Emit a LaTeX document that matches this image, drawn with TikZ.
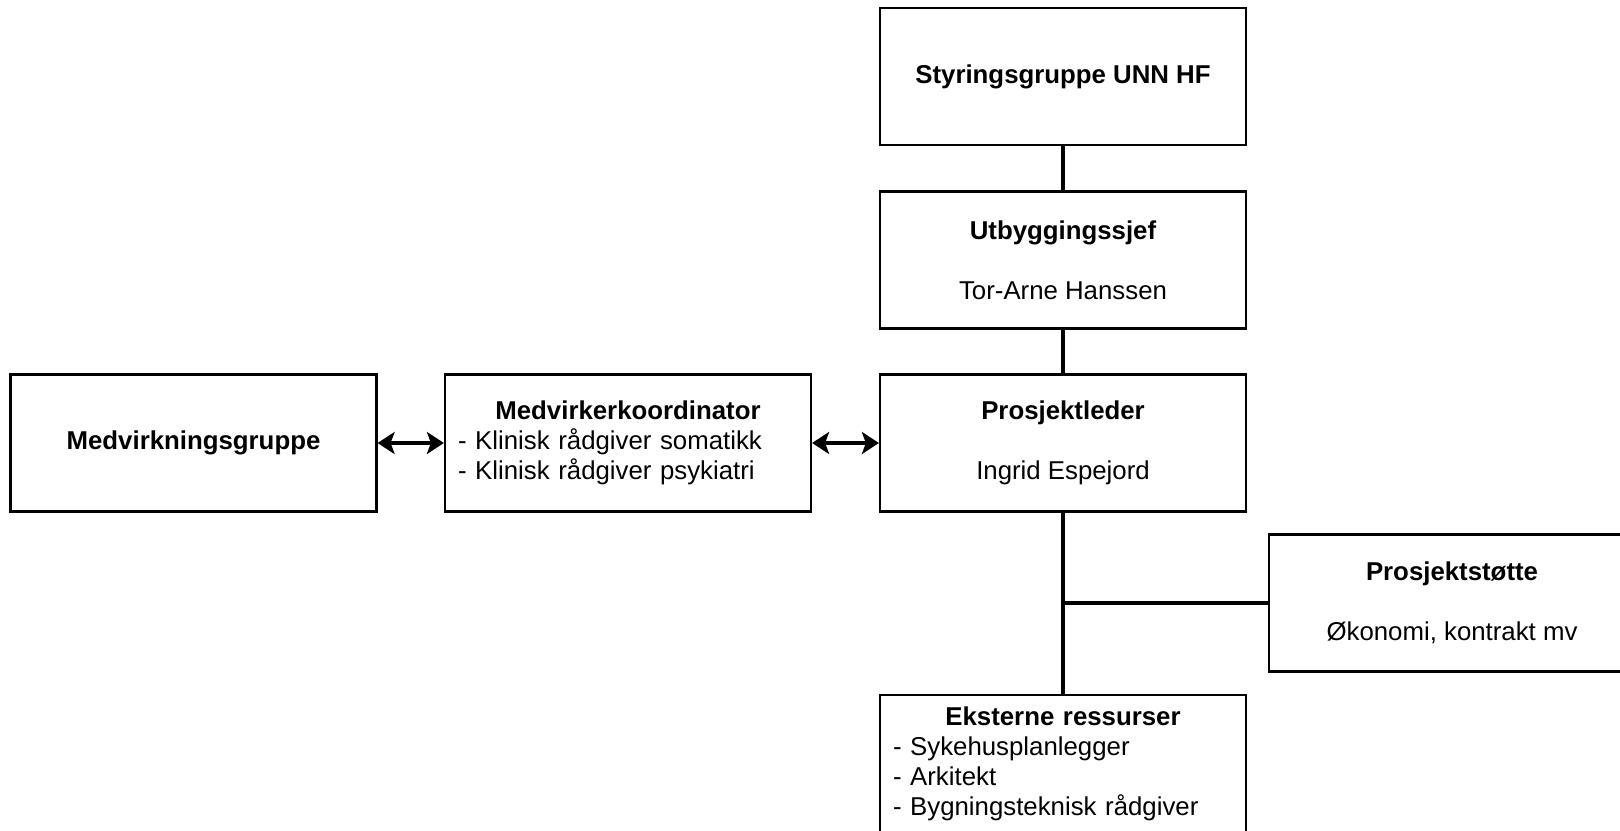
\documentclass[tikz,border=0pt]{standalone}
\usepackage{fontspec}
\setmainfont{Liberation Sans}
\usetikzlibrary{arrows.meta}
\begin{document}
\begin{tikzpicture}[x=0.5pt, y=-0.5pt,
    box/.style={draw, line width=1.1pt, minimum width=183pt, minimum height=68.5pt,
      inner sep=0pt, align=center, font=\fontsize{12.9}{15}\selectfont},
    liste/.style={box, text width=170pt, align=left},
    link/.style={line width=1.75pt},
    begge/.style={line width=1.75pt, {Stealth[length=8.5pt, width=11pt, inset=2pt]}-{Stealth[length=8.5pt, width=11pt, inset=2pt]}}]
    \useasboundingbox (0,0) rectangle (1620,830);
    \node[box] (styr) at (1063,76.5) {\textbf{Styringsgruppe UNN HF}};
    \node[box] (utb) at (1063,260) {\textbf{Utbyggingssjef}\\[15pt]Tor-Arne Hanssen};
    \node[box] (leder) at (1063,443) {\textbf{Prosjektleder}\\[15pt]Ingrid Espejord};
    \node[liste] (koord) at (628,443) {\makebox[170pt]{\textbf{Medvirkerkoordinator}}\\
      - Klinisk rådgiver somatikk\\
      - Klinisk rådgiver psykiatri};
    \node[box] (medv) at (193.5,443) {\textbf{Medvirkningsgruppe}};
    \node[box] (stotte) at (1452,603) {\textbf{Prosjektstøtte}\\[15pt]Økonomi, kontrakt mv};
    \node[liste] (ekst) at (1063,763.5) {\makebox[170pt]{\textbf{Eksterne ressurser}}\\
      - Sykehusplanlegger\\
      - Arkitekt\\
      - Bygningsteknisk rådgiver};
    \coordinate (grein) at (leder.south |- stotte.west);
    \draw[link] (styr) -- (utb);
    \draw[link] (utb) -- (leder);
    \draw[link] (leder) -- (ekst);
    \draw[link] (grein) -- (stotte);
    \draw[begge] (medv) -- (koord);
    \draw[begge] (koord) -- (leder);
\end{tikzpicture}
\end{document}
